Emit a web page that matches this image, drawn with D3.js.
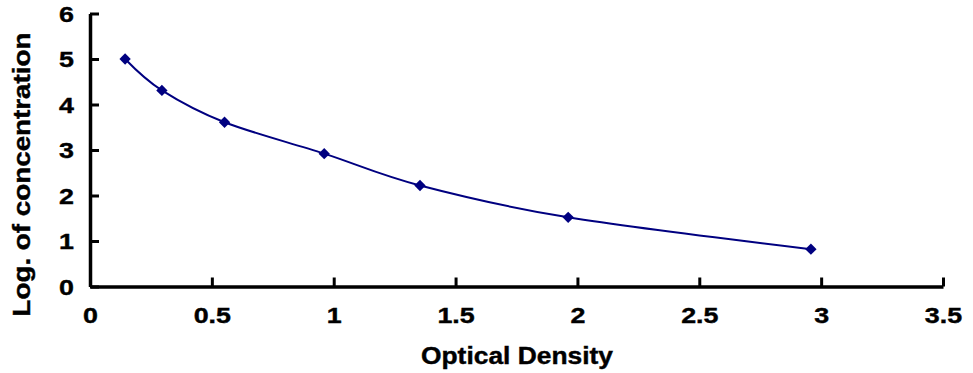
<!doctype html>
<html lang="en">
<head>
<meta charset="utf-8">
<title>Optical Density</title>
<script src="https://cdn.jsdelivr.net/npm/d3@7"></script>
<style>
  body { margin: 0; background: #fff; }
  svg text { font-family: "Liberation Sans", Arial, sans-serif; font-weight: bold; fill: #000;
             stroke: #000; stroke-width: 0.4px; }
</style>
</head>
<body>
<svg id="chart" width="973" height="373"></svg>
<script>
// values
var od = [0.144, 0.295, 0.552, 0.961, 1.354, 1.962, 2.958];
var logConc = [5.0, 4.31, 3.61, 2.92, 2.22, 1.52, 0.82];
var xTicks = [0, 0.5, 1, 1.5, 2, 2.5, 3, 3.5];
var yTicks = [0, 1, 2, 3, 4, 5, 6];

var svg = d3.select("#chart");

var x = d3.scaleLinear().domain([0, 3.5]).range([90, 943]);
var y = d3.scaleLinear().domain([0, 6]).range([286.5, 13.5]);

var stretch = 1.22;

// x axis
var xAxis = svg.append("g")
  .attr("transform", "translate(0," + y(0) + ")")
  .call(d3.axisBottom(x).tickValues(xTicks).tickSize(-9).tickSizeOuter(0)
    .tickFormat(function(d){ return String(d); }));
xAxis.select(".domain").attr("stroke", "#000").attr("stroke-width", 3.5);
xAxis.selectAll(".tick line").attr("stroke", "#000").attr("stroke-width", 3);
xAxis.selectAll(".tick text").attr("y", 36.5).attr("dy", null)
  .attr("transform", "scale(" + stretch + ",1)")
  .style("font-size", "22px");

// y axis
var yAxis = svg.append("g")
  .attr("transform", "translate(" + x(0) + ",0)")
  .call(d3.axisLeft(y).tickValues(yTicks).tickSize(-9).tickSizeOuter(0)
    .tickFormat(d3.format("d")));
yAxis.select(".domain").attr("stroke", "#000").attr("stroke-width", 3.5);
yAxis.selectAll(".tick line").attr("stroke", "#000").attr("stroke-width", 3);
yAxis.selectAll(".tick text").attr("x", -16 / stretch).attr("dy", "0.36em")
  .attr("transform", "scale(" + stretch + ",1)")
  .style("font-size", "22px");

// axis titles
svg.append("text")
  .attr("x", 517).attr("y", 364)
  .attr("text-anchor", "middle")
  .attr("textLength", 192).attr("lengthAdjust", "spacingAndGlyphs")
  .style("font-size", "23px")
  .text("Optical Density");

svg.append("text")
  .attr("transform", "translate(30,174.5) rotate(-90)")
  .attr("text-anchor", "middle")
  .attr("textLength", 284).attr("lengthAdjust", "spacingAndGlyphs")
  .style("font-size", "23px")
  .text("Log. of concentration");

var pts = od.map(function(d, i){ return [d, logConc[i]]; });

var line = d3.line()
  .x(function(d){ return x(d[0]); })
  .y(function(d){ return y(d[1]); })
  .curve(d3.curveCatmullRom.alpha(0));

svg.append("path")
  .datum(pts)
  .attr("d", line)
  .attr("fill", "none")
  .attr("stroke", "#000080")
  .attr("stroke-width", 2);

svg.append("g").selectAll("path")
  .data(pts)
  .enter()
  .append("path")
  .attr("d", d3.symbol().type(d3.symbolSquare).size(64))
  .attr("transform", function(d){ return "translate(" + x(d[0]) + "," + y(d[1]) + ") rotate(45)"; })
  .attr("fill", "#000080");
</script>
</body>
</html>
